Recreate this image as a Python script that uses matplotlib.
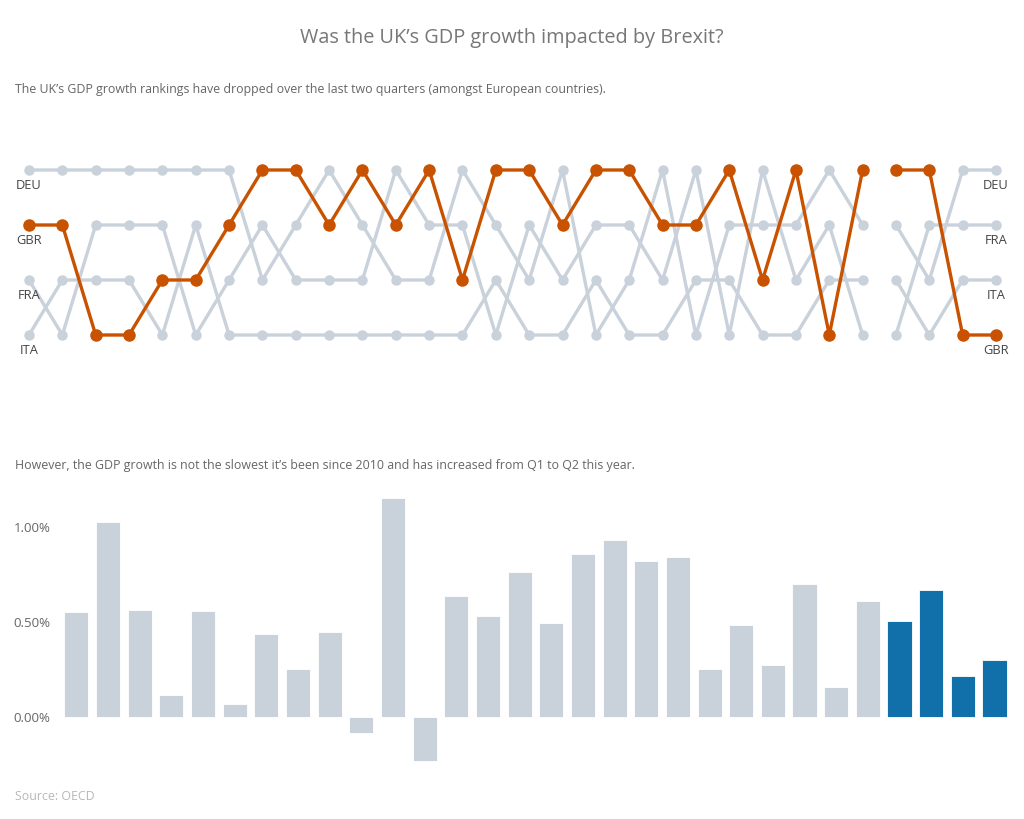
import numpy as np
import matplotlib.pyplot as plt

# quarterly GDP growth ranking (1 = fastest) amongst 4 European countries
gbr_rank = [2, 2, 4, 4, 3, 3, 2, 1, 1, 2, 1, 2, 1, 3, 1, 1, 2, 1, 1, 2, 2, 1, 3, 1, 4, 1, 1, 1, 4, 4]
deu_rank = [1, 1, 1, 1, 1, 1, 1, 3, 2, 1, 2, 3, 3, 1, 2, 3, 1, 4, 3, 1, 4, 2, 2, 2, 1, 2, 2, 3, 1, 1]
fra_rank = [3, 4, 2, 2, 2, 4, 3, 2, 3, 3, 3, 1, 2, 2, 4, 2, 3, 2, 2, 3, 1, 4, 1, 3, 2, 4, 4, 2, 2, 2]
ita_rank = [4, 3, 3, 3, 4, 2, 4, 4, 4, 4, 4, 4, 4, 4, 3, 4, 4, 3, 4, 4, 3, 3, 4, 4, 3, 3, 3, 4, 3, 3]
# the ranking series is broken into two runs
runs = [(0, 26), (26, 30)]

# UK quarterly GDP growth (%)
gdp_growth = [0.554, 1.025, 0.565, 0.117, 0.560, 0.068, 0.437, 0.253, 0.446, -0.086,
              1.154, -0.232, 0.637, 0.530, 0.765, 0.495, 0.856, 0.933, 0.819, 0.840,
              0.253, 0.484, 0.274, 0.700, 0.156, 0.609, 0.507, 0.668, 0.216, 0.302]
n_highlight = 4

GREY = '#c9d1db'
ORANGE = '#c85200'
BLUE = '#1170aa'
TEXT = '#666666'

plt.rcParams['font.family'] = ['Open Sans', 'DejaVu Sans']

fig = plt.figure(figsize=(10.24, 8.19), dpi=100)
W, H = 1024, 819


def fig_rect(x0, y0, x1, y1):
    return [x0 / W, 1 - y1 / H, (x1 - x0) / W, (y1 - y0) / H]


# ---- bump chart ----
ax = fig.add_axes(fig_rect(0, 140, W, 370))
x = np.arange(len(gbr_rank))
for ranks in (deu_rank, fra_rank, ita_rank):
    r = np.array(ranks)
    for a, b in runs:
        ax.plot(x[a:b], r[a:b], color=GREY, lw=2.4, marker='o', ms=6.5,
                solid_capstyle='round', zorder=2)
g = np.array(gbr_rank)
for a, b in runs:
    ax.plot(x[a:b], g[a:b], color=ORANGE, lw=2.4, marker='o', ms=8, zorder=3)

# labels under first and last points
start = {'DEU': deu_rank[0], 'GBR': gbr_rank[0], 'FRA': fra_rank[0], 'ITA': ita_rank[0]}
end = {'DEU': deu_rank[-1], 'GBR': gbr_rank[-1], 'FRA': fra_rank[-1], 'ITA': ita_rank[-1]}
for name, rk in start.items():
    ax.text(x[0], rk + 0.28, name, ha='center', va='center', fontsize=9.3, color='#444444')
for name, rk in end.items():
    ax.text(x[-1], rk + 0.28, name, ha='center', va='center', fontsize=9.3, color='#444444')

pitch = (996 - 29) / 29
ax.set_xlim(-29 / pitch, 29 + (W - 996) / pitch)
ax.set_ylim(4 + 35 / 55, 1 - 30 / 55)
ax.axis('off')

# ---- bar chart ----
bx = fig.add_axes(fig_rect(60, 490, 1010, 770))
colors = [GREY] * (len(gdp_growth) - n_highlight) + [BLUE] * n_highlight
bx.bar(np.arange(len(gdp_growth)), gdp_growth, width=0.76, color=colors,
       edgecolor='white', linewidth=0.6)
bpitch = (994.5 - 76.3) / 29
bx.set_xlim((60 - 76.3) / bpitch, (1010 - 76.3) / bpitch)
bx.set_ylim((717 - 770) / 190, (717 - 490) / 190)
bx.set_yticks([0, 0.5, 1.0])
bx.set_yticklabels(['0.00%', '0.50%', '1.00%'])
bx.tick_params(axis='y', length=0, labelsize=9.5, labelcolor=TEXT, pad=7)
bx.set_xticks([])
for s in bx.spines.values():
    s.set_visible(False)

# ---- texts ----
fig.text(512 / W, 1 - 38 / H, 'Was the UK\u2019s GDP growth impacted by Brexit?',
         ha='center', va='center', fontsize=14.3, color='#777777')
fig.text(15 / W, 1 - 89 / H,
         'The UK\u2019s GDP growth rankings have dropped over the last two quarters (amongst European countries).',
         ha='left', va='center', fontsize=8.9, color=TEXT)
fig.text(15 / W, 1 - 466 / H,
         'However, the GDP growth is not the slowest it\u2019s been since 2010 and has increased from Q1 to Q2 this year.',
         ha='left', va='center', fontsize=8.9, color=TEXT)
fig.text(15 / W, 1 - 796 / H, 'Source: OECD', ha='left', va='center', fontsize=8.9, color='#b8b8b8')

fig.savefig('out.png', dpi=100, facecolor='white')
